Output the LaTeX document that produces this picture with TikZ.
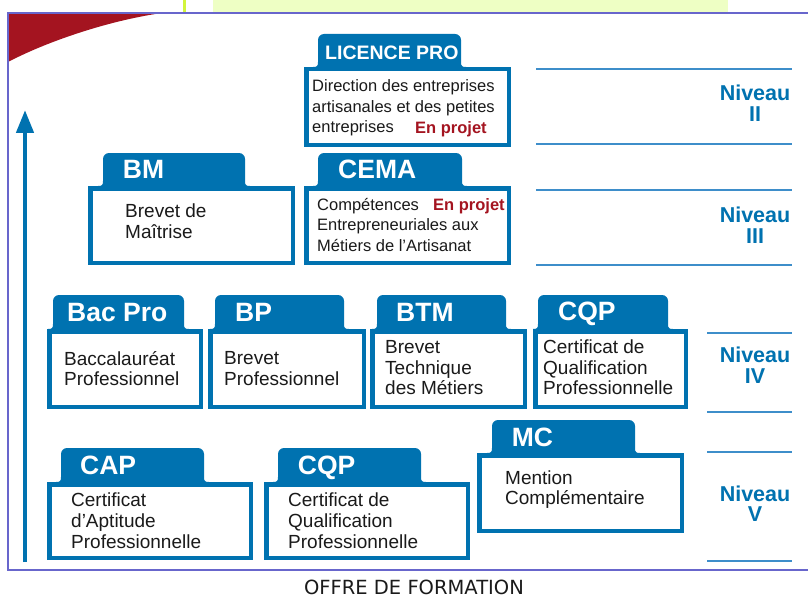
\documentclass[tikz,border=0pt]{standalone}
\usepackage{fontspec}
\setmainfont{Liberation Sans}
\newfontfamily\captionfamily{DejaVu Sans}
\usetikzlibrary{arrows.meta}

\definecolor{diplblue}{RGB}{0,114,176}
\definecolor{levelblue}{RGB}{62,142,202}
\definecolor{framepurple}{RGB}{104,102,204}
\definecolor{accentred}{RGB}{164,20,32}
\definecolor{limebar}{RGB}{210,245,60}
\definecolor{paleband}{RGB}{238,255,196}
\definecolor{inkblack}{RGB}{26,26,26}

% stacked lines whose baseline is the first line
\newcommand\lignes[1]{\begin{tabular}[t]{@{}l@{}}#1\end{tabular}}
\newcommand\clignes[1]{\begin{tabular}[t]{@{}c@{}}#1\end{tabular}}

% a diploma card: blue tab with rounded top, flared foot, and a framed body
% #1 name, #2 #3 body top-left, #4 #5 body bottom-right, #6 #7 tab left/right, #8 tab top
\newcommand\diplome[8]{%
  \fill[diplblue] (#6-5,#3+3) -- (#6-5,#3)
    .. controls (#6-1,#3) and (#6,#3-1) .. (#6,#3-5)
    -- (#6,#8+6) arc[start angle=180,end angle=270,radius=6]
    -- (#7-6,#8) arc[start angle=270,end angle=360,radius=6]
    -- (#7,#3-5) .. controls (#7,#3-1) and (#7+1,#3) .. (#7+5,#3)
    -- (#7+5,#3+3) -- cycle;
  \node[bodybox, minimum width={#4-#2-4.5}, minimum height={#5-#3-4.5}]
    (#1) at ({(#2+#4)/2},{(#3+#5)/2}) {};
}

\tikzset{
  bodybox/.style={rectangle, draw=diplblue, line width=4.5pt, fill=white, inner sep=0pt},
  hdr/.style={anchor=base west, inner sep=0pt, text=white,
    font=\bfseries\fontsize{26.5}{28}\selectfont},
  smallhdr/.style={hdr, font=\bfseries\fontsize{19.5}{22}\selectfont},
  txt/.style={anchor=base west, inner sep=0pt, text=inkblack,
    font=\fontsize{19}{20.8}\selectfont},
  smalltxt/.style={txt, font=\fontsize{16.5}{20.5}\selectfont},
  projet/.style={anchor=base west, inner sep=0pt, text=accentred,
    font=\bfseries\fontsize{16.5}{20.5}\selectfont},
  niveau/.style={anchor=base, inner sep=0pt, text=diplblue,
    font=\bfseries\fontsize{21.5}{20}\selectfont},
  levelline/.style={draw=levelblue, line width=1.6pt},
  risearrow/.style={draw=diplblue, line width=4.5pt,
    -{Triangle[width=17pt,length=23pt]}},
  framerule/.style={draw=framepurple, line width=2.2pt},
  legend/.style={anchor=base, inner sep=0pt, text depth=0pt, text=inkblack,
    font=\captionfamily\fontsize{19.5}{22}\selectfont},
}

\begin{document}
\begin{tikzpicture}[x=1pt,y=-1pt]
  \useasboundingbox (0,0) rectangle (808,599);
  \fill[white] (0,0) rectangle (808,599);

  % strip above the frame
  \fill[limebar] (183,0) rectangle (186,12);
  \fill[paleband] (213,0) rectangle (728,12);

  % red corner swash
  \fill[accentred] (8,13) -- (8,62) .. controls (50,40) and (112,20) .. (162,13) -- cycle;

  % frame
  \draw[framerule] (810,13) -- (8,13) -- (8,570) -- (810,570);

  % rising arrow
  \coordinate (arrowfoot) at (25,562);
  \coordinate (arrowtip) at (25,110);
  \draw[risearrow] (arrowfoot) -- (arrowtip);

  % level separators
  \foreach \yy in {69,144,190,265} \draw[levelline] (536,\yy) -- (792,\yy);
  \foreach \yy in {333,412,452,561} \draw[levelline] (707,\yy) -- (792,\yy);

  % level labels
  \node[niveau] (niv2) at (755,101) {\clignes{Niveau\\II}};
  \node[niveau] (niv3) at (755,222.3) {\clignes{Niveau\\III}};
  \node[niveau] (niv4) at (755,362.7) {\clignes{Niveau\\IV}};
  \node[niveau] (niv5) at (755,501) {\clignes{Niveau\\V}};

  % cards
  \diplome{licence}{304}{67}{511}{147}{318}{461}{34}
  \diplome{bm}{88}{186}{295}{265}{103}{245}{153}
  \diplome{cema}{304}{186}{511}{265}{318}{462}{153}
  \diplome{bacpro}{47}{329}{203}{409}{53}{184}{295}
  \diplome{bp}{208}{329}{366}{409}{215}{344}{295}
  \diplome{btm}{370}{329}{527}{409}{377}{506}{295}
  \diplome{cqpiv}{533}{329}{688}{409}{538}{668}{295}
  \diplome{mc}{477}{453}{684}{533}{492}{635}{420}
  \diplome{cap}{47}{482}{253}{560}{61}{204}{448}
  \diplome{cqpv}{264}{482}{470}{560}{278}{421}{448}

  % tab titles
  \node[smallhdr] (licenceH) at (325,59.3) {LICENCE PRO};
  \node[hdr] (bmH) at (122.7,178) {BM};
  \node[hdr] (cemaH) at (338,178) {CEMA};
  \node[hdr] (bacproH) at (67,321.5) {Bac Pro};
  \node[hdr] (bpH) at (235,321.5) {BP};
  \node[hdr] (btmH) at (396,321.5) {BTM};
  \node[hdr] (cqpivH) at (558,320.5) {CQP};
  \node[hdr] (mcH) at (511.7,446) {MC};
  \node[hdr] (capH) at (80,474) {CAP};
  \node[hdr] (cqpvH) at (297.7,474) {CQP};

  % card texts
  \node[smalltxt] (licenceT) at (312,92)
    {\lignes{Direction des entreprises\\artisanales et des petites\\entreprises}};
  \node[projet] (licenceP) at (415,133) {En projet};
  \node[txt] (bmT) at (125,217.3) {\lignes{Brevet de\\Maîtrise}};
  \node[smalltxt] (cemaT) at (317,210)
    {\lignes{Compétences\\Entrepreneuriales aux\\Métiers de l’Artisanat}};
  \node[projet] (cemaP) at (433,210) {En projet};
  \node[txt] (bacproT) at (64,365) {\lignes{Baccalauréat\\Professionnel}};
  \node[txt] (bpT) at (224,364.5) {\lignes{Brevet\\Professionnel}};
  \node[txt] (btmT) at (385,353.3) {\lignes{Brevet\\Technique\\des Métiers}};
  \node[txt] (cqpivT) at (543,353.3) {\lignes{Certificat de\\Qualification\\Professionnelle}};
  \node[txt] (mcT) at (505,484) {\lignes{Mention\\Complémentaire}};
  \node[txt] (capT) at (71,506.7) {\lignes{Certificat\\d’Aptitude\\Professionnelle}};
  \node[txt] (cqpvT) at (288,506.7) {\lignes{Certificat de\\Qualification\\Professionnelle}};

  % caption under the frame
  \node[legend] (legende) at (414,594) {OFFRE DE FORMATION};
\end{tikzpicture}
\end{document}
